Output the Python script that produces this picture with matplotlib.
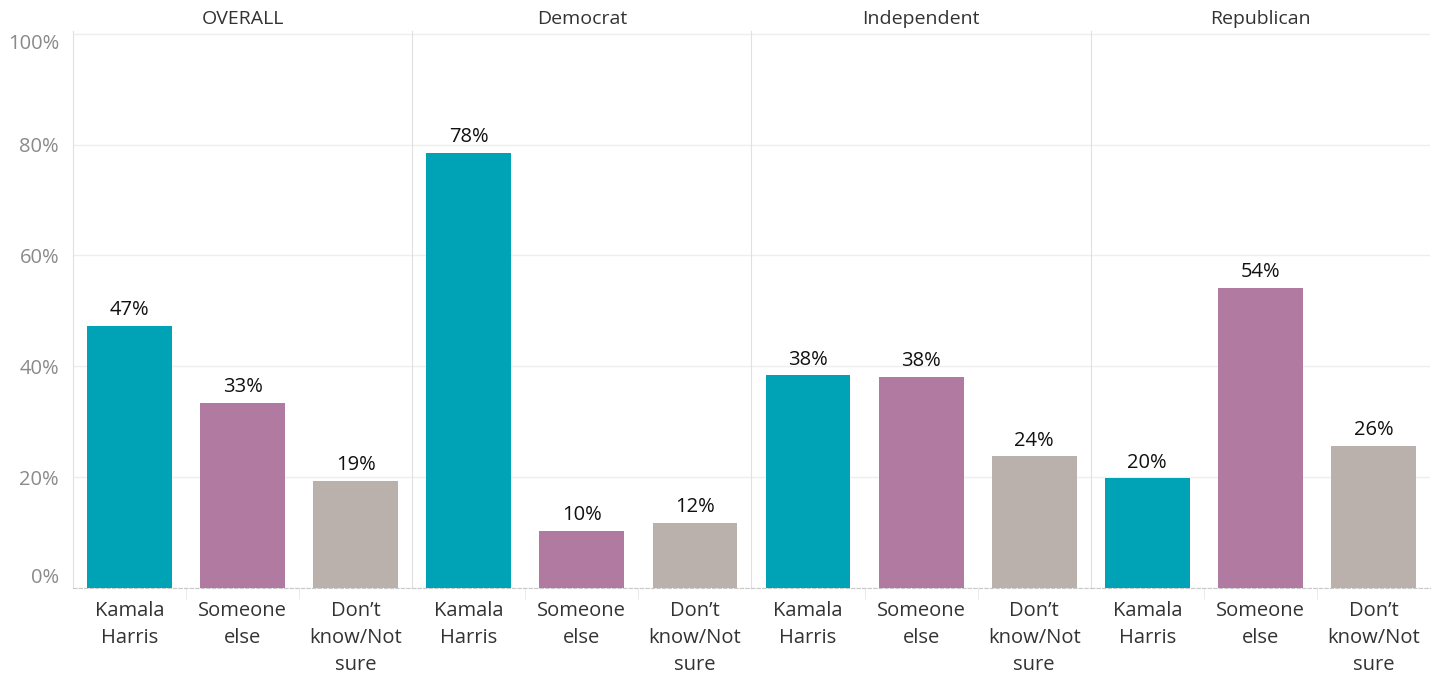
import matplotlib.pyplot as plt
import numpy as np

plt.rcParams['font.family'] = ['Open Sans', 'DejaVu Sans']

groups = ['OVERALL', 'Democrat', 'Independent', 'Republican']
answers = ['Kamala\nHarris', 'Someone\nelse', 'Don\u2019t\nknow/Not\nsure']
values = [
    [47.3, 33.4, 19.3],
    [78.5, 10.3, 11.8],
    [38.4, 38.1, 23.8],
    [19.8, 54.2, 25.7],
]
colors = ['#00A2B5', '#B07AA1', '#BAB0AC']
yticks = [0, 20, 40, 60, 80, 100]

fig, axes = plt.subplots(1, 4, figsize=(14.37, 6.78), dpi=100, sharey=True)
fig.subplots_adjust(left=0.0508, right=0.9951, top=0.9543, bottom=0.1327, wspace=0)

x = np.arange(len(answers))
for i, (ax, grp, vals) in enumerate(zip(axes, groups, values)):
    ax.bar(x, vals, width=0.75, color=colors, zorder=3)
    for xi, v in zip(x, vals):
        ax.annotate(f"{v:.0f}%", (xi, v), xytext=(0, 4), textcoords='offset points',
                    ha='center', va='bottom', fontsize=14.5, color='#111111')
    ax.set_xlim(-0.5, 2.5)
    ax.set_ylim(0, 100.5)
    ax.set_title(grp, fontsize=14, color='#333333', pad=5)
    ax.set_xticks(x)
    ax.set_xticklabels(answers, fontsize=14.5, color='#333333', linespacing=1.48, va='top')
    ax.tick_params(axis='x', length=0, pad=9)
    # small separator ticks between categories
    ax.set_xticks([0.5, 1.5], minor=True)
    ax.tick_params(axis='x', which='minor', length=8, color='#E6E6E6')
    ax.set_yticks(yticks)
    ax.grid(axis='y', color='#EEEEEE', linewidth=1, zorder=0)
    for s in ['top', 'right']:
        ax.spines[s].set_visible(False)
    ax.spines['left'].set_color('#E0E0E0')
    ax.spines['bottom'].set_color('#C8C8C8')
    ax.spines['bottom'].set_linestyle((0, (3, 2)))
    if i == 0:
        ax.set_yticklabels([f"{t}%" for t in yticks], fontsize=14.5, color='#8A8A8A')
        ax.tick_params(axis='y', length=0, pad=10)
        labs = ax.get_yticklabels()
        labs[0].set_va('bottom')
        labs[-1].set_va('top')
    else:
        ax.tick_params(axis='y', length=0, labelleft=False)

fig.savefig('out.png', dpi=100)
